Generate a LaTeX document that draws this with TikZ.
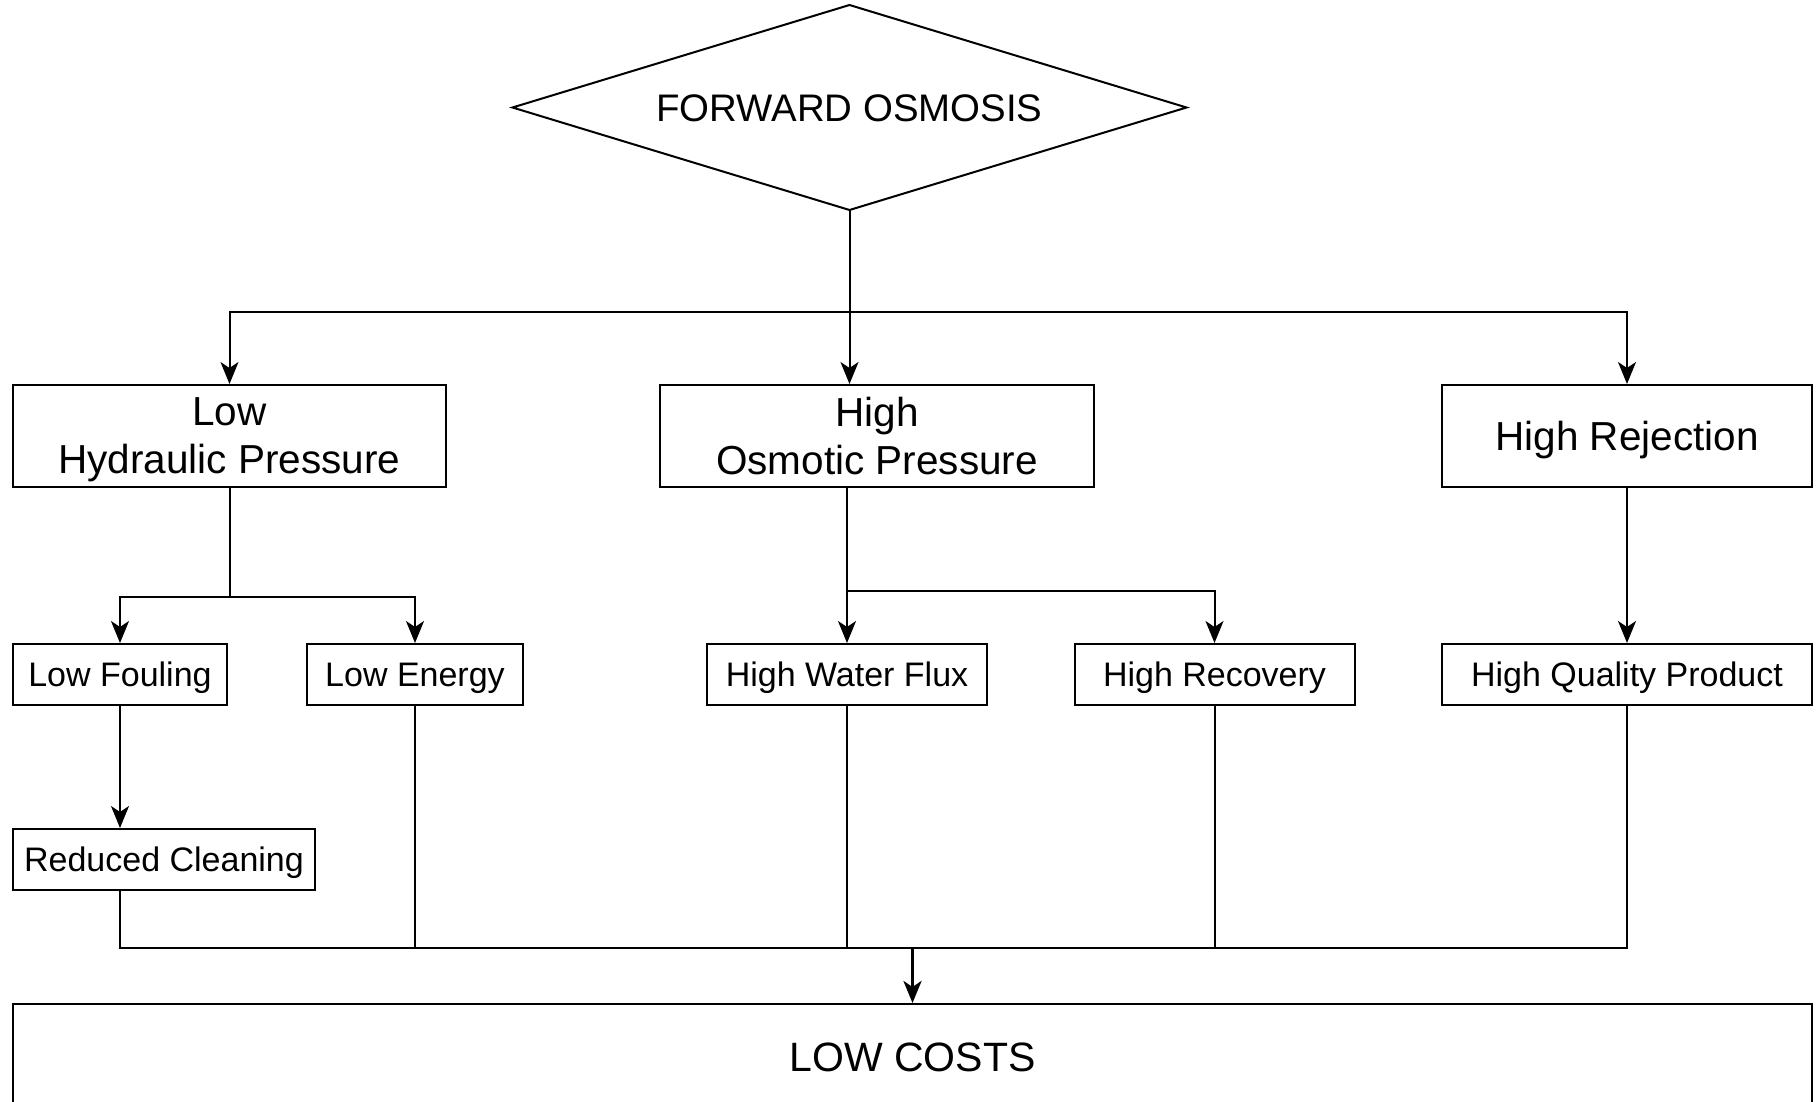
\documentclass[tikz,border=0pt]{standalone}
\usepackage{fontspec}
\setmainfont{Liberation Sans}
\usetikzlibrary{arrows.meta}
\begin{document}
\begin{tikzpicture}[x=0.5pt,y=-0.5pt,
  box/.style={draw=black, line width=1pt, rectangle, inner sep=0pt, align=center, text depth=0pt},
  big/.style={box, font=\fontsize{20.25}{24}\selectfont, minimum height=51pt},
  small/.style={box, font=\fontsize{17}{20}\selectfont, minimum height=30.5pt},
  con/.style={line width=1pt, draw=black},
  arr/.style={con, -{Stealth[length=11pt,width=9pt,inset=3pt]}},
  thickarr/.style={line width=1.6pt, draw=black, -{Stealth[length=11pt,width=9pt,inset=3pt]}},
]
\useasboundingbox (0,0) rectangle (1816,1102);
\clip (0,0) rectangle (1816,1102);

% top decision (diamond)
\coordinate (dtop) at (849.5,5);
\coordinate (dright) at (1186.5,107.5);
\coordinate (dbot) at (849.5,210);
\coordinate (dleft) at (512.5,107.5);
\draw[con, line join=miter] (dtop) -- (dright) -- (dbot) -- (dleft) -- cycle;
\node[inner sep=0pt, text depth=0pt, font=\fontsize{19.2}{23}\selectfont] (fo) at (849.5,108) {FORWARD OSMOSIS};

% first level
\node[big, minimum width=216.5pt] (lhp) at (229.5,436) {Low\\Hydraulic Pressure};
\node[big, minimum width=217pt]   (hop) at (877,436) {High\\Osmotic Pressure};
\node[big, minimum width=185pt]   (hrj) at (1627,436) {High Rejection};

% second level
\node[small, minimum width=107.25pt] (lf)  at (120,674.5) {Low Fouling};
\node[small, minimum width=108.3pt]  (le)  at (415,674.5) {Low Energy};
\node[small, minimum width=140pt]    (hwf) at (847,674.5) {High Water Flux};
\node[small, minimum width=140pt]    (hrc) at (1214.5,674.5) {High Recovery};
\node[small, minimum width=185pt]    (hqp) at (1627,674.5) {High Quality Product};

% third level
\node[small, minimum width=151pt] (rc) at (164,859.5) {Reduced Cleaning};

% result
\node[box, minimum width=899.5pt, minimum height=53pt,
      font=\fontsize{20.5}{24}\selectfont] (lc) at (912.5,1057) {LOW COSTS};

% junction points
\coordinate (b1) at (849.5,312);
\coordinate (b2) at (229.5,597);
\coordinate (b3) at (847,591);
\coordinate (b4) at (912.5,948);

% connectors from the decision
\draw[con] (dbot) -- (b1);
\draw[arr] (b1) -- (b1 |- hop.north);
\draw[arr] (b1) -| (lhp.north);
\draw[arr] (b1) -| (hrj.north);

% Low Hydraulic Pressure branch
\draw[con] (lhp.south) -- (b2);
\draw[arr] (b2) -| (lf.north);
\draw[arr] (b2) -| (le.north);
\draw[arr] (lf.south) -- (lf.south |- rc.north);

% High Osmotic Pressure branch
\draw[con] (hwf.north |- hop.south) -- (b3);
\draw[arr] (b3) -- (hwf.north);
\draw[arr] (b3) -| (hrc.north);

% High Rejection branch
\draw[arr] (hrj.south) -- (hqp.north);

% collecting bus
\draw[con] (lf.south |- rc.south) |- (b4);
\draw[con] (le.south) |- (b4);
\draw[con] (hwf.south) |- (b4);
\draw[con] (hrc.south) |- (b4);
\draw[con] (hqp.south) |- (b4);
\draw[thickarr] (b4) -- (lc.north);
\end{tikzpicture}
\end{document}
